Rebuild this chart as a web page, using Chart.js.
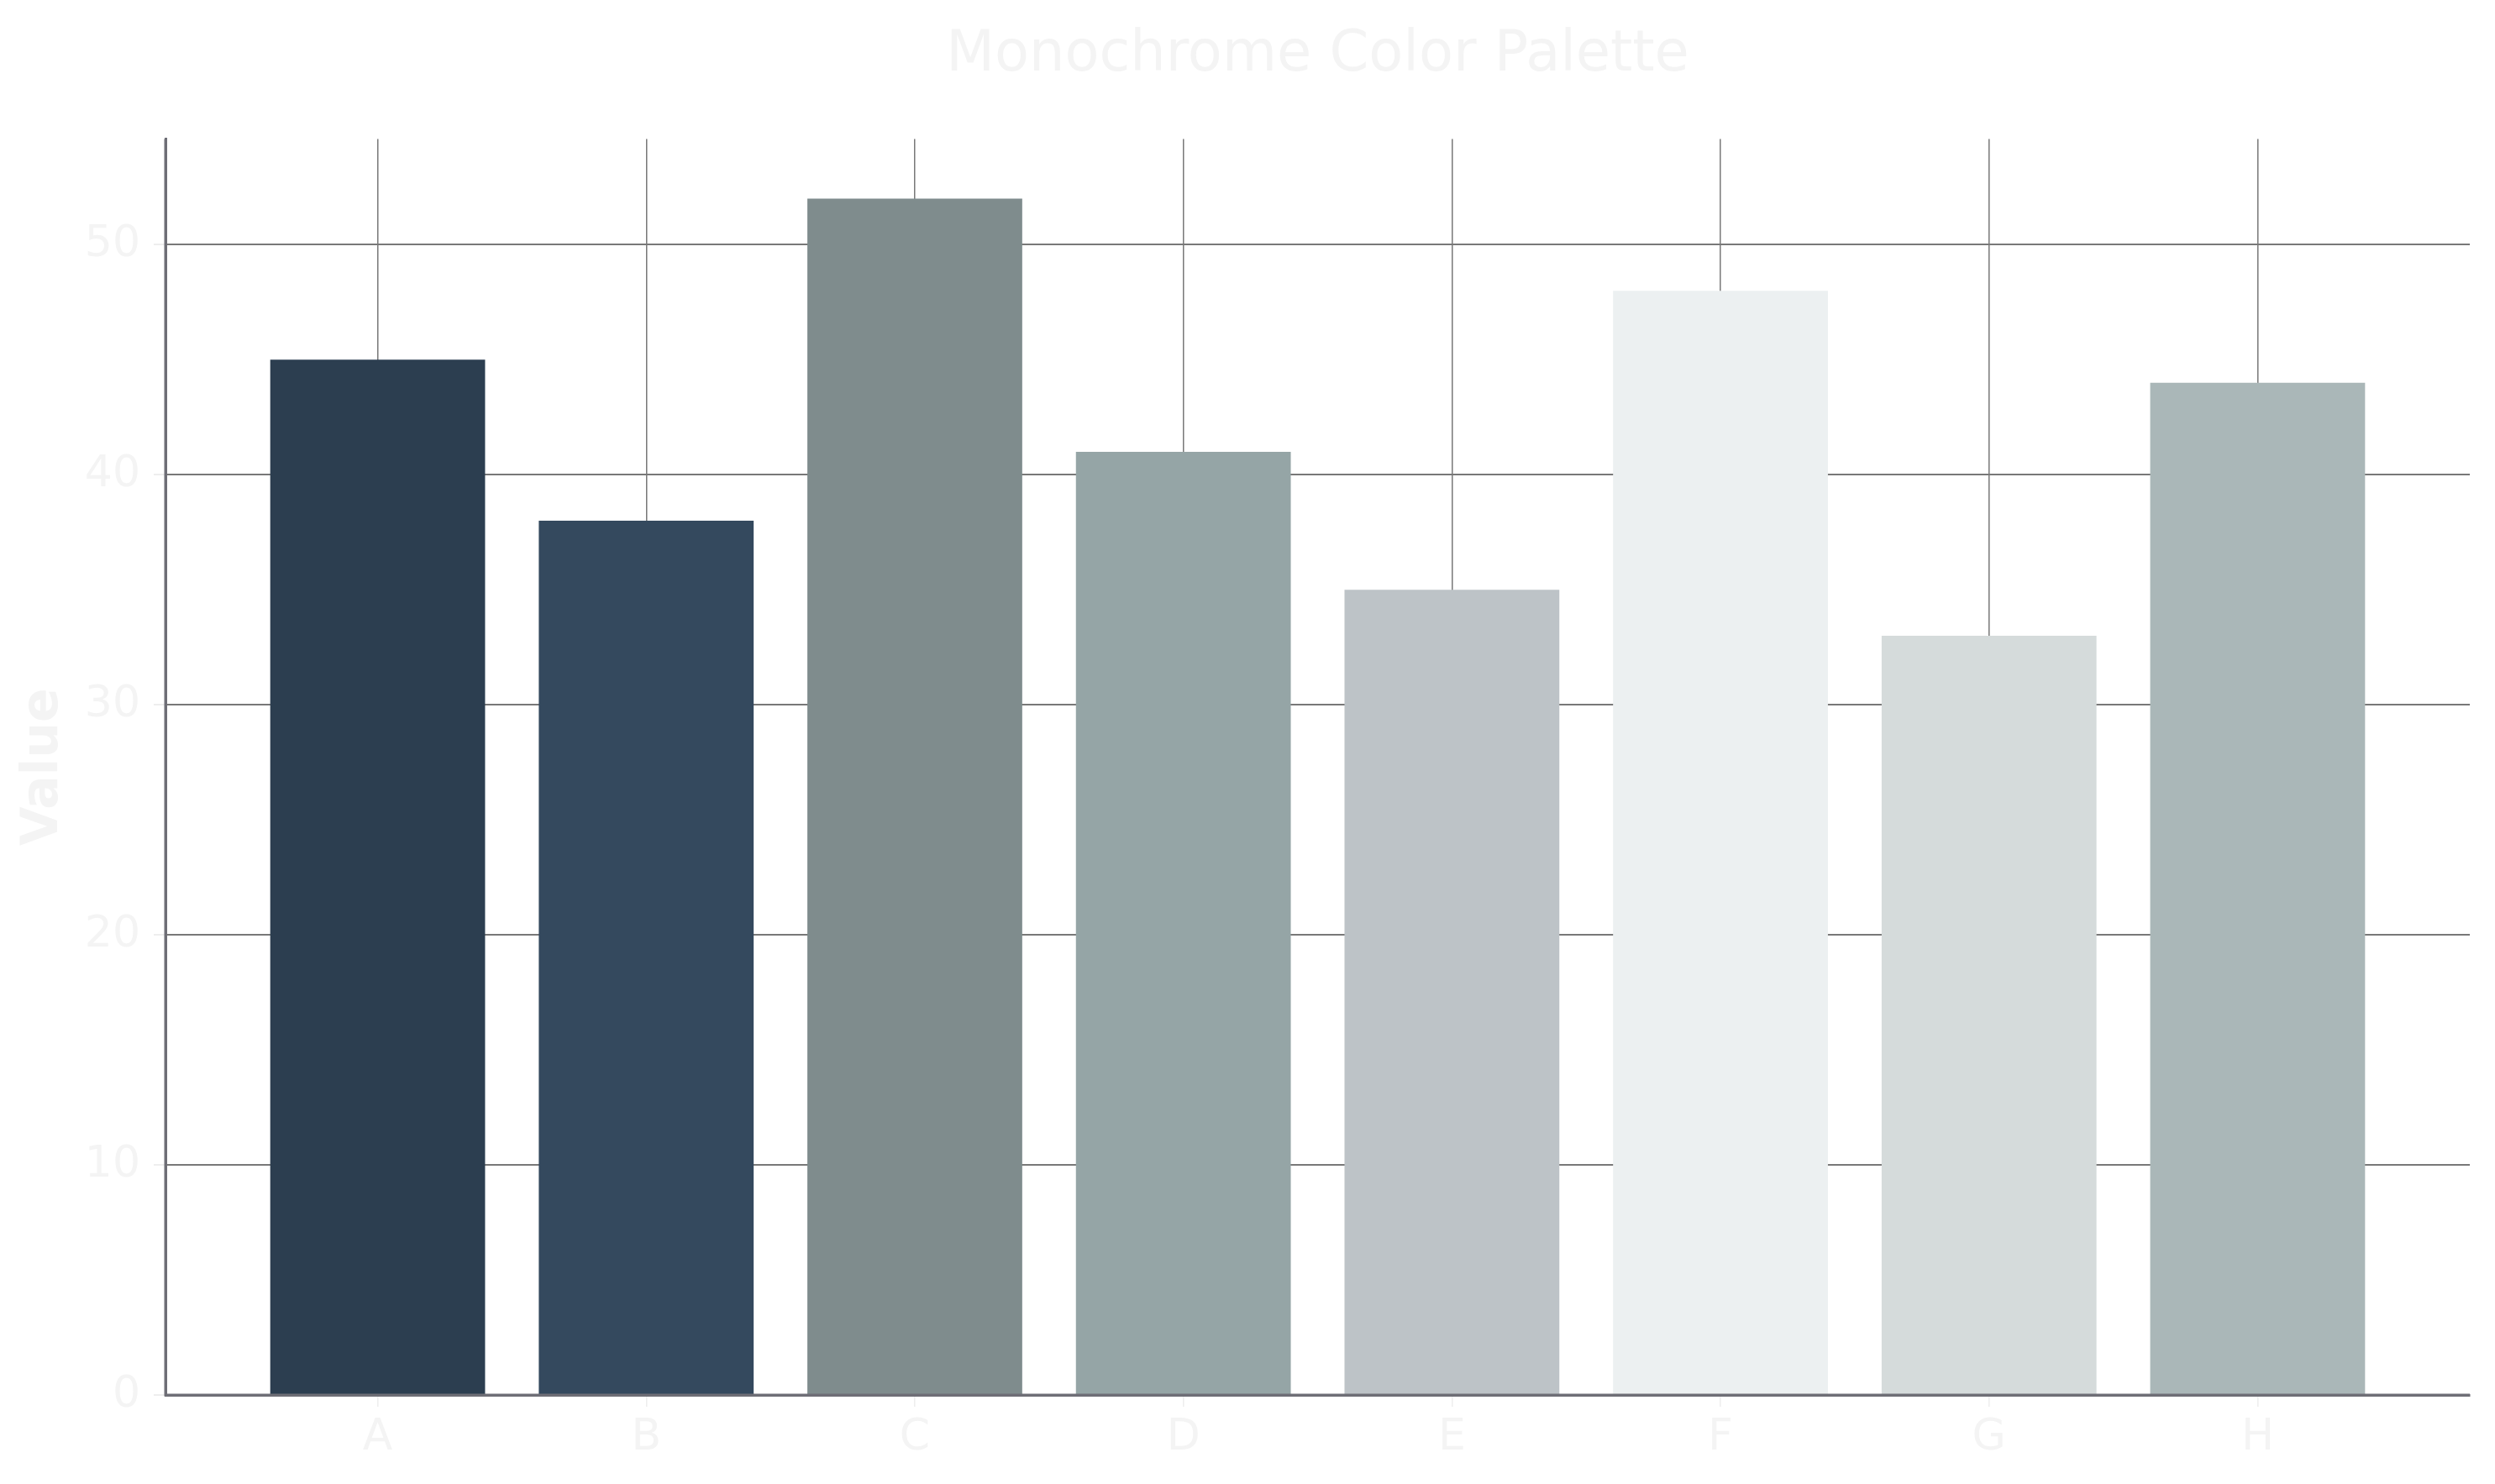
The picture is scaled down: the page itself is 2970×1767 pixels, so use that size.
<!DOCTYPE html>
<html>
<head>
<meta charset="utf-8">
<script src="https://cdn.jsdelivr.net/npm/chart.js@4/dist/chart.umd.min.js"></script>
<style>
  html, body { margin: 0; padding: 0; background: #ffffff; }
  #chart { display: block; }
</style>
</head>
<body>
<canvas id="chart" width="2970" height="1767"></canvas>
<script>
const categories = ['A', 'B', 'C', 'D', 'E', 'F', 'G', 'H'];
const values = [45, 38, 52, 41, 35, 48, 33, 44];
const barColors = ['#2c3e50', '#34495e', '#7f8c8d', '#95a5a6', '#bdc3c7', '#ecf0f1', '#d5dbdb', '#aab7b8'];
const yTicks = [0, 10, 20, 30, 40, 50];

const textColor = '#f4f4f4';
const gridColor = '#787878';
const axisColor = '#6e6e76';

// redraw the left and bottom spines on top of the bars
const spines = {
  id: 'spines',
  afterDatasetsDraw(chart) {
    const { ctx, chartArea } = chart;
    ctx.save();
    ctx.strokeStyle = axisColor;
    ctx.lineWidth = 3;
    ctx.beginPath();
    ctx.moveTo(chartArea.left, chartArea.top);
    ctx.lineTo(chartArea.left, chartArea.bottom);
    ctx.lineTo(chartArea.right, chartArea.bottom);
    ctx.stroke();
    ctx.restore();
  }
};

function chart() {
  const $chartArea = document.querySelector('#chart');
  const ctx = $chartArea.getContext('2d');

  new Chart(ctx, {
    type: 'bar',
    data: {
      datasets: [{
        data: values.map((v, i) => ({ x: i, y: v })),
        backgroundColor: barColors,
        borderWidth: 0,
        barPercentage: 0.8,
        categoryPercentage: 1.0,
      }]
    },
    plugins: [spines],
    options: {
      responsive: false,
      animation: false,
      devicePixelRatio: 1,
      layout: {
        padding: { left: 0, right: 30, top: 0, bottom: 0 }
      },
      plugins: {
        legend: { display: false },
        tooltip: { enabled: false },
        title: {
          display: true,
          fullSize: false,
          text: 'Monochrome Color Palette',
          color: textColor,
          font: { family: 'DejaVu Sans', size: 67, weight: 'normal' },
          padding: { top: 26, bottom: 59 }
        }
      },
      scales: {
        x: {
          type: 'linear',
          min: -0.79,
          max: 7.79,
          offset: false,
          afterBuildTicks: (scale) => {
            scale.ticks = categories.map((c, i) => ({ value: i }));
          },
          afterFit: (scale) => { scale.height = 106; },
          ticks: {
            color: textColor,
            font: { family: 'DejaVu Sans', size: 52 },
            padding: 6,
            maxRotation: 0,
            callback: (value) => categories[value] ?? ''
          },
          grid: {
            offset: false,
            color: gridColor,
            lineWidth: 1.5,
            tickColor: '#eeeeee',
            tickLength: 14
          },
          border: { display: true, color: axisColor, width: 3 }
        },
        y: {
          min: 0,
          max: 54.6,
          afterBuildTicks: (scale) => {
            scale.ticks = yTicks.map(v => ({ value: v }));
          },
          afterFit: (scale) => { scale.width = 197; },
          ticks: {
            color: textColor,
            font: { family: 'DejaVu Sans', size: 52 },
            padding: 16
          },
          grid: {
            color: gridColor,
            lineWidth: 2,
            tickColor: '#eeeeee',
            tickLength: 14
          },
          border: { display: true, color: axisColor, width: 3 },
          title: {
            display: true,
            text: 'Value',
            color: textColor,
            font: { family: 'DejaVu Sans', size: 60, weight: 'bold' },
            padding: { top: 16, bottom: 10 }
          }
        }
      }
    }
  });
}
chart();
</script>
</body>
</html>
